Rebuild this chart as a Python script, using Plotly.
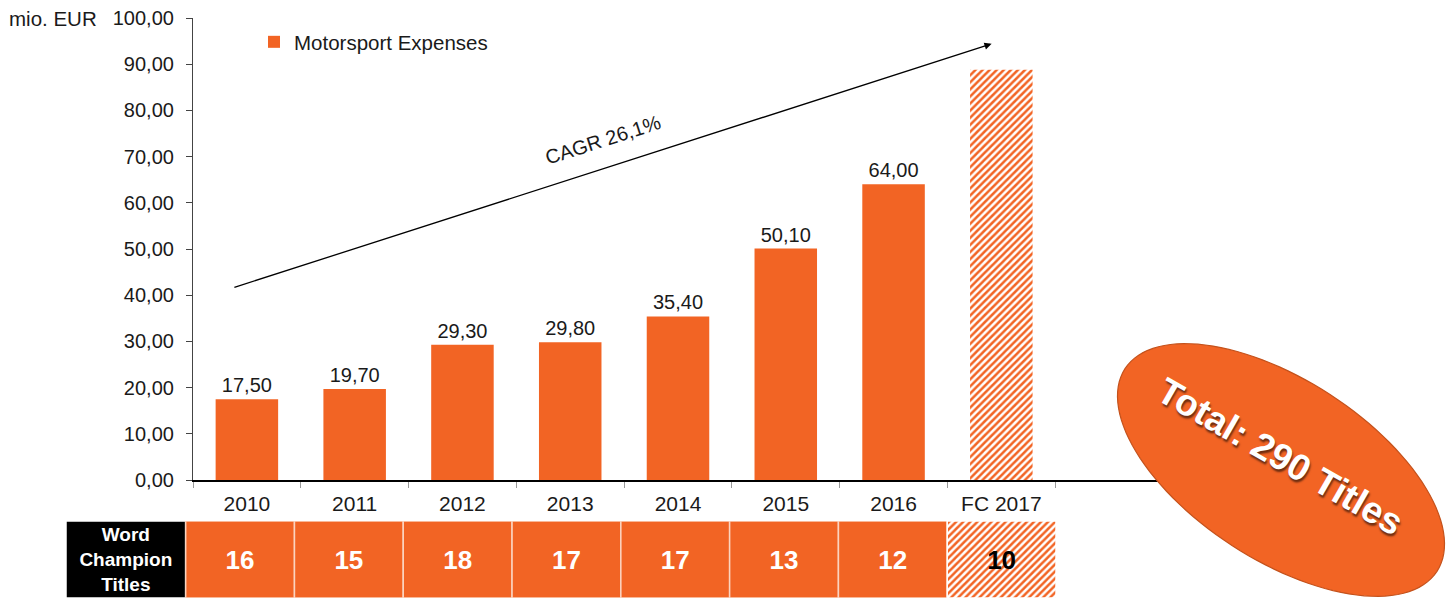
import math
import plotly.graph_objects as go

# ---------------- data ----------------
years = ["2010", "2011", "2012", "2013", "2014", "2015", "2016"]
expenses = [17.50, 19.70, 29.30, 29.80, 35.40, 50.10, 64.00]
forecast_label = "FC 2017"
forecast_value = 88.8
blank_category = " "
titles = [16, 15, 18, 17, 17, 13, 12]
forecast_titles = 10
titles_header = "Word<br>Champion<br>Titles"
y_ticks = [0, 10, 20, 30, 40, 50, 60, 70, 80, 90, 100]
series_name = "Motorsport Expenses"
unit_label = "mio. EUR"
cagr_label = "CAGR 26,1%"
total_label = "Total: 290 Titles"

# ---------------- style ----------------
W, H = 1447, 599
ORANGE = "#F26424"
FONT = "Liberation Sans, Arial, sans-serif"
TXT = "#1a1a1a"
HATCH = dict(shape="/", fgcolor=ORANGE, bgcolor="white", size=5, solidity=0.5)


def px_x(p):
    return p / W


def px_y(p):
    return 1 - p / H


categories = years + [forecast_label, blank_category]

fig = go.Figure()

# main bars
fig.add_trace(go.Bar(
    x=years, y=expenses, name=series_name,
    marker=dict(color=ORANGE, line=dict(width=0)),
    texttemplate="%{y:.2f}", textposition="outside",
    textfont=dict(family=FONT, size=20, color=TXT),
    cliponaxis=False, xaxis="x", yaxis="y",
))
# forecast bar (hatched)
fig.add_trace(go.Bar(
    x=[forecast_label], y=[forecast_value], showlegend=False,
    marker=dict(color="white", line=dict(width=0), pattern=HATCH),
    xaxis="x", yaxis="y",
))

# ---------------- titles table (second axis pair) ----------------
header_w = 1.1
fig.add_trace(go.Bar(
    x=[-header_w / 2], y=[1], width=[header_w], showlegend=False,
    marker=dict(color="black", line=dict(color="white", width=1.5)),
    text=[titles_header], textposition="inside", insidetextanchor="middle",
    textfont=dict(family=FONT, size=19, color="white", weight="bold"),
    constraintext="none", xaxis="x2", yaxis="y2", hoverinfo="skip",
))
fig.add_trace(go.Bar(
    x=[i + 0.5 for i in range(len(titles))], y=[1] * len(titles),
    width=[1] * len(titles), showlegend=False,
    marker=dict(color=ORANGE, line=dict(color="#FBD3BF", width=1.5)),
    text=[str(t) for t in titles], textposition="inside", insidetextanchor="middle",
    textfont=dict(family=FONT, size=26, color="white", weight="bold"),
    constraintext="none", xaxis="x2", yaxis="y2", hoverinfo="skip",
))
fig.add_trace(go.Bar(
    x=[len(titles) + 0.5], y=[1], width=[1], showlegend=False,
    marker=dict(color="white", line=dict(color="white", width=1.5), pattern=HATCH),
    text=[str(forecast_titles)], textposition="inside", insidetextanchor="middle",
    textfont=dict(family=FONT, size=26, color="black", weight="bold"),
    constraintext="none", xaxis="x2", yaxis="y2", hoverinfo="skip",
))

# ---------------- ellipse ----------------
cx, cy, a, b, th = 1281, 470, 186, 90, math.radians(33)
pts = []
for k in range(121):
    t = 2 * math.pi * k / 120
    ex = a * math.cos(t)
    ey = b * math.sin(t)
    x = cx + ex * math.cos(th) - ey * math.sin(th)
    y = cy + ex * math.sin(th) + ey * math.cos(th)
    pts.append(f"{px_x(x):.5f},{px_y(y):.5f}")
ellipse_path = "M" + " L".join(pts) + " Z"

fig.update_layout(
    template="none",
    width=W, height=H,
    margin=dict(l=0, r=0, t=0, b=0, pad=0, autoexpand=False),
    paper_bgcolor="white", plot_bgcolor="white",
    separators=",.",
    barmode="overlay",
    bargap=0.42,
    font=dict(family=FONT, size=20, color=TXT),
    showlegend=True,
    legend=dict(x=px_x(254), y=px_y(22), xanchor="left", yanchor="top",
                font=dict(family=FONT, size=20.5, color=TXT),
                bgcolor="rgba(0,0,0,0)"),
    xaxis=dict(
        domain=[px_x(193), px_x(1163)],
        type="category", categoryorder="array", categoryarray=categories,
        range=[-0.5, len(categories) - 0.5], automargin=False,
        showline=True, linecolor="black", linewidth=1.5,
        ticks="outside", tickson="boundaries", ticklen=6, tickcolor="#999",
        ticklabelstandoff=4,
        showgrid=False, zeroline=False,
        tickfont=dict(family=FONT, size=21, color=TXT),
        anchor="y",
    ),
    yaxis=dict(
        domain=[px_y(480), px_y(18)],
        range=[0, 100], automargin=False,
        tickvals=y_ticks, tickformat=".2f",
        showline=True, linecolor="#444", linewidth=1.2,
        ticks="outside", ticklen=6, tickcolor="#444",
        ticklabelstandoff=8,
        showgrid=False, zeroline=False,
        tickfont=dict(family=FONT, size=20, color=TXT),
        anchor="x",
    ),
    xaxis2=dict(
        domain=[px_x(66), px_x(1056)],
        range=[-header_w, len(titles) + 1], automargin=False,
        visible=False, anchor="y2",
    ),
    yaxis2=dict(
        domain=[px_y(598), px_y(521)],
        range=[0, 1], visible=False, anchor="x2", automargin=False,
    ),
    shapes=[dict(type="path", path=ellipse_path, xref="paper", yref="paper",
                 fillcolor=ORANGE, line=dict(color="#C4521C", width=1.2),
                 layer="above")],
    annotations=[
        dict(text=unit_label, xref="paper", yref="paper",
             x=px_x(7), y=px_y(19), xanchor="left", yanchor="middle",
             showarrow=False, font=dict(family=FONT, size=20.5, color=TXT)),
        dict(x=6.91, y=94.4, ax=-0.13, ay=41.6, xref="x", yref="y",
             axref="x", ayref="y", text="", showarrow=True,
             arrowhead=2, arrowsize=1.1, arrowwidth=1.3, arrowcolor="black"),
        dict(text=cagr_label, x=3.30, y=73.6, xref="x", yref="y",
             showarrow=False, textangle=-17.8,
             xanchor="center", yanchor="middle",
             font=dict(family=FONT, size=20, color=TXT)),
        dict(text=f"<b>{total_label}</b>", xref="paper", yref="paper",
             x=px_x(1280), y=px_y(457), showarrow=False, textangle=30,
             xanchor="center", yanchor="middle",
             font=dict(family=FONT, size=37, color="white",
                       shadow="2px 2px 2px rgba(0,0,0,0.55)")),
    ],
)

fig.write_html("out.html", config={"displayModeBar": False},
               post_script="document.body.style.margin='0';document.body.style.overflow='hidden';")
